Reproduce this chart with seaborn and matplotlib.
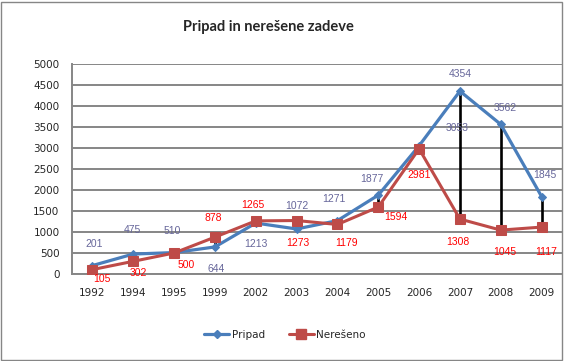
import numpy as np
import pandas as pd
import seaborn as sns
import matplotlib.pyplot as plt
from matplotlib.patches import Rectangle
from matplotlib.lines import Line2D

years = ['1992', '1994', '1995', '1999', '2002', '2003', '2004', '2005',
         '2006', '2007', '2008', '2009']
pripad = [201, 475, 510, 644, 1213, 1072, 1271, 1877, 3053, 4354, 3562, 1845]
neReseno = [105, 302, 500, 878, 1265, 1273, 1179, 1594, 2981, 1308, 1045, 1117]

# label offsets in pixels (dx, dy), dy positive = up
pripad_off = [(2, 22), (-1, 24), (-2, 22), (1, -22), (0, -21), (0, 23),
              (-4, 22), (-6, 16), (38, 18), (0, 17), (4, 16), (3, 22)]
nere_off = [(9, -9), (5, -12), (12, -12), (-2, 19), (-3, 16), (1, -22),
            (9, -19), (18, -10), (0, -26), (-2, -23), (4, -22), (5, -25)]

blue = '#4A7EBB'
red = '#BE4B48'
grid_c = '#868686'

df = pd.DataFrame({'Leto': years * 2,
                   'Vrednost': pripad + neReseno,
                   'Serija': ['Pripad'] * len(years) + ['Nerešeno'] * len(years)})

sns.set_style('white')
plt.rcParams['font.family'] = ['DejaVu Sans']

fig = plt.figure(figsize=(5.64, 3.61), dpi=100)
ax = fig.add_axes([72 / 564, 87 / 361, 490 / 564, 210 / 361])

ax.vlines(range(len(years)), np.minimum(pripad, neReseno),
          np.maximum(pripad, neReseno), color='black', lw=1.9, zorder=2)

sns.lineplot(data=df[df['Serija'] == 'Pripad'], x='Leto', y='Vrednost',
             sort=False, color=blue, lw=2.3, marker='D', markersize=4,
             markeredgecolor=blue, ax=ax, zorder=3, legend=False)
sns.lineplot(data=df[df['Serija'] == 'Nerešeno'], x='Leto', y='Vrednost',
             sort=False, color=red, lw=2.2, marker='s', markersize=6.5,
             markeredgecolor=red, ax=ax, zorder=3, legend=False)

for i, v in enumerate(pripad):
    dx, dy = pripad_off[i]
    ax.annotate(str(v), (i, v), xytext=(dx * 0.72, dy * 0.72),
                textcoords='offset points', ha='center', va='center',
                fontsize=7.5, color='#66669A', family='Liberation Sans', zorder=5)
for i, v in enumerate(neReseno):
    dx, dy = nere_off[i]
    ax.annotate(str(v), (i, v), xytext=(dx * 0.72, dy * 0.72),
                textcoords='offset points', ha='center', va='center',
                fontsize=7.5, color='#FF0000', family='Liberation Sans', zorder=5)

ax.set_xlim(-0.5, len(years) - 0.5)
ax.set_ylim(0, 5000)
ax.set_yticks(range(0, 5001, 500))
ax.yaxis.grid(True, color=grid_c, lw=1.4)
ax.set_axisbelow(True)
for s in ['top', 'right']:
    ax.spines[s].set_visible(False)
ax.spines['left'].set_color(grid_c)
ax.spines['bottom'].set_color(grid_c)
ax.spines['left'].set_linewidth(1.4)
ax.spines['bottom'].set_linewidth(1.4)
ax.tick_params(axis='y', length=3, width=1.4, color=grid_c, pad=6, labelsize=7.5)
ax.tick_params(axis='x', length=0, pad=10, labelsize=7.5)
ax.set_xlabel('')
ax.set_ylabel('')

fig.text(0.476, 0.925, 'Pripad in nerešene zadeve', ha='center', va='center',
         fontsize=10.5, fontweight='bold', family='Lato')

handles = [Line2D([], [], color=blue, lw=2.3, marker='D', markersize=4),
           Line2D([], [], color=red, lw=2.2, marker='s', markersize=6.5)]
fig.legend(handles, ['Pripad', 'Nerešeno'], loc='center', ncol=2,
           bbox_to_anchor=(0.505, 0.072), frameon=False, fontsize=7.5,
           handlelength=2.4, handletextpad=0.2, columnspacing=2.3)

fig.patches.append(Rectangle((1 / 564, 1 / 361), 561 / 564, 358 / 361,
                             transform=fig.transFigure, fill=False,
                             edgecolor=grid_c, lw=1))

plt.savefig('out.png', dpi=100)
